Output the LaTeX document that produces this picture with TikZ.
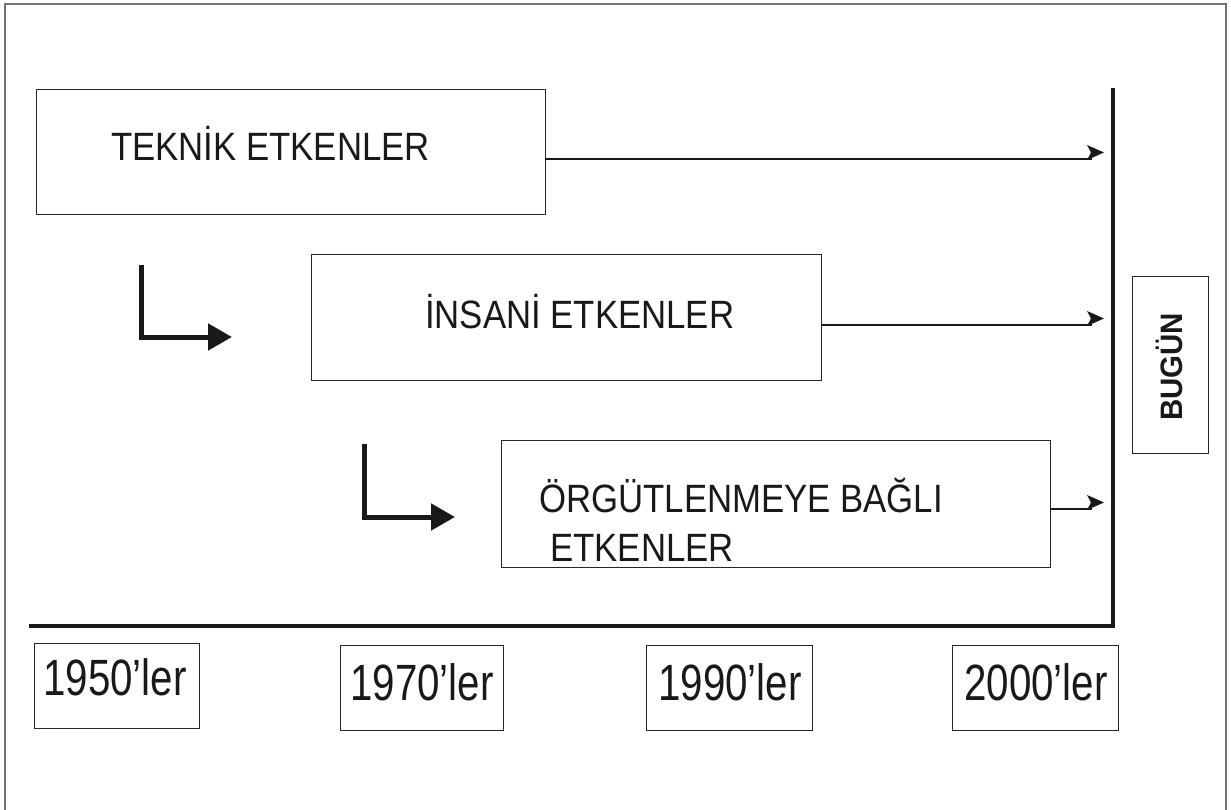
\documentclass[tikz,border=0pt]{standalone}
\usepackage{fontspec}
\setmainfont{Liberation Sans}[FakeStretch=0.88]
\newfontfamily\yearfont{Liberation Sans}[FakeStretch=0.79]
\newfontfamily\widesans{Liberation Sans}[FakeStretch=0.95]
\usetikzlibrary{arrows.meta}
\begin{document}
\begin{tikzpicture}[x=1pt,y=-1pt,
  box/.style={draw=black!85,line width=1pt,inner sep=0pt,outer sep=0pt},
  caption/.style={inner sep=0pt,anchor=base west,font=\fontsize{39.5}{44}\selectfont,text=black!90},
  year/.style={inner sep=0pt,font=\yearfont\fontsize{51}{55}\selectfont,text=black!90},
  feed/.style={line width=1.5pt,black!90},
  turn/.style={line width=5pt,black!90,-{Triangle[length=24pt,width=26pt]}},
  axis/.style={line width=4.5pt,black!90,line join=miter},
  head/.pic={\fill[black!90] (0,0) -- (-17,-7.5) -- (-13,0) -- (-17,7.5) -- cycle;}]
\useasboundingbox (0,0) rectangle (1231,810);

% outer frame (open at the bottom)
\draw[black!55,line width=1.5pt] (5,815) -- (5,4) -- (1226,4) -- (1226,815);

% factor boxes
\node[box,minimum width=509pt,minimum height=125pt] (tek) at (290.5,152.5) {};
\node[caption] (tekt) at (111,161) {TEKNİK ETKENLER};
\node[box,minimum width=510pt,minimum height=125pt] (ins) at (566,317.5) {};
\node[caption] (inst) at (425,328) {İNSANİ ETKENLER};
\node[box,minimum width=549pt,minimum height=127pt] (org) at (775.5,504) {};
\node[caption] (orgt1) at (539,512) {ÖRGÜTLENMEYE BAĞLI};
\node[caption] (orgt2) at (550,561) {ETKENLER};

% arrows towards today: the heads sit slightly above their shafts
\coordinate (e1) at (1092,159);
\coordinate (e2) at (1092,325);
\coordinate (e3) at (1092,509);
\coordinate (h1) at (1104,152.5);
\coordinate (h2) at (1104,318.5);
\coordinate (h3) at (1104,502.5);
\draw[feed] (tek.east |- e1) -- (e1);
\draw[feed] (ins.east |- e2) -- (e2);
\draw[feed] (org.east |- e3) -- (e3);
\pic at (h1) {head};
\pic at (h2) {head};
\pic at (h3) {head};

% time axis
\coordinate (axtop) at (1113,88);
\coordinate (axcorner) at (1113,626);
\coordinate (axleft) at (29,626);
\draw[axis] (axtop) -- (axcorner) -- (axleft);

% transition arrows
\coordinate (la1) at (141,265);
\coordinate (lb1) at (141,337);
\coordinate (lc1) at (232,337);
\draw[turn] (la1) -- (lb1) -- (lc1);
\coordinate (la2) at (364,444);
\coordinate (lb2) at (364,517);
\coordinate (lc2) at (455,517);
\draw[turn] (la2) -- (lb2) -- (lc2);

% today
\node[box,minimum width=76pt,minimum height=176pt] (bug) at (1170,365) {};
\node[rotate=90,inner sep=0pt,font=\widesans\bfseries\fontsize{31}{33}\selectfont,text=black!90] (bugt) at (1169.5,367) {BUGÜN};

% decades
\node[box,minimum width=165pt,minimum height=85pt] (y50) at (116.5,685.5) {};
\node[year] (y50t) at (115,677.5) {1950’ler};
\node[box,minimum width=163pt,minimum height=85pt] (y70) at (421.5,687.5) {};
\node[year] (y70t) at (422,682) {1970’ler};
\node[box,minimum width=166pt,minimum height=85pt] (y90) at (729,687.5) {};
\node[year] (y90t) at (730,682) {1990’ler};
\node[box,minimum width=166pt,minimum height=85pt] (y00) at (1035,687.5) {};
\node[year] (y00t) at (1036,682) {2000’ler};
\end{tikzpicture}
\end{document}
